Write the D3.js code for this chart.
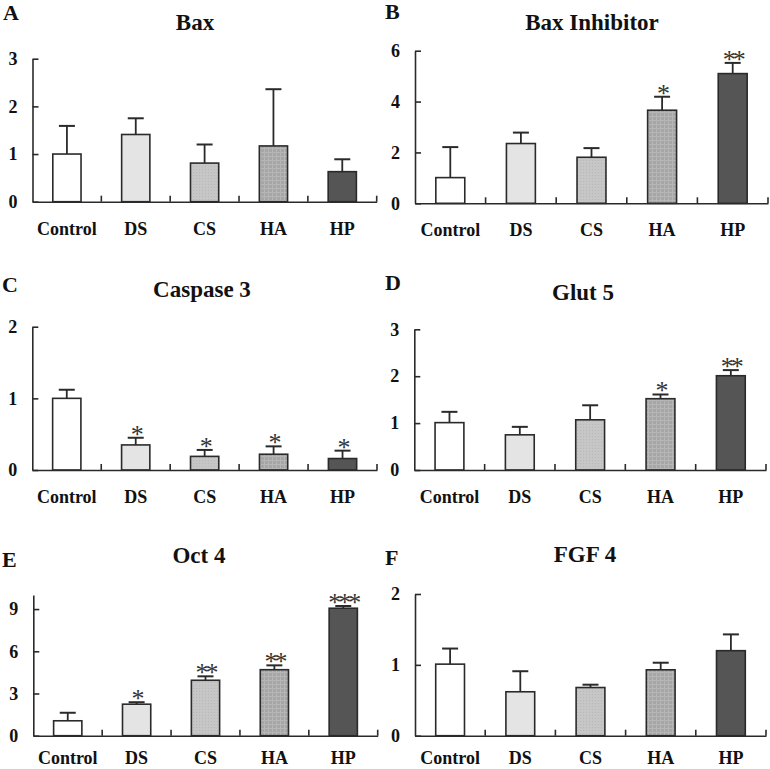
<!DOCTYPE html>
<html><head><meta charset="utf-8">
<script src="https://cdn.jsdelivr.net/npm/d3@7"></script>
<style>body{margin:0;background:#fff}svg{display:block}</style>
</head><body>
<svg id="chart" width="770" height="769"></svg>
<script>
const categories = ["Control", "DS", "CS", "HA", "HP"];

const baxMeans = [1.0, 1.41, 0.81, 1.17, 0.63];
const baxSD = [0.59, 0.34, 0.39, 1.19, 0.26];
const baxStars = ["", "", "", "", ""];

const baxInhMeans = [1.01, 2.35, 1.81, 3.66, 5.10];
const baxInhSD = [1.20, 0.43, 0.36, 0.53, 0.42];
const baxInhStars = ["", "", "", "*", "**"];

const caspMeans = [1.0, 0.35, 0.19, 0.22, 0.16];
const caspSD = [0.12, 0.10, 0.09, 0.11, 0.11];
const caspStars = ["", "*", "*", "*", "*"];

const glutMeans = [1.01, 0.75, 1.07, 1.52, 2.01];
const glutSD = [0.23, 0.17, 0.31, 0.09, 0.12];
const glutStars = ["", "", "", "*", "**"];

const octMeans = [1.06, 2.24, 3.94, 4.69, 9.06];
const octSD = [0.57, 0.14, 0.28, 0.31, 0.16];
const octStars = ["", "*", "**", "**", "***"];

const fgfMeans = [1.01, 0.62, 0.68, 0.93, 1.20];
const fgfSD = [0.22, 0.29, 0.04, 0.10, 0.23];
const fgfStars = ["", "", "", "", ""];

const baxTicks = [0, 1, 2, 3];
const baxInhTicks = [0, 2, 4, 6];
const caspTicks = [0, 1, 2];
const glutTicks = [0, 1, 2, 3];
const octTicks = [0, 3, 6, 9];
const fgfTicks = [0, 1, 2];

const panelLetters = ["A", "B", "C", "D", "E", "F"];
const panelTitles = ["Bax", "Bax Inhibitor", "Caspase 3", "Glut 5", "Oct 4", "FGF 4"];

const panels = [
  {means: baxMeans, sd: baxSD, stars: baxStars, ticks: baxTicks, max: 3,
   x0: 32.5, x1: 376.7, y0: 201.7, yTop: 58.7, tx: 195, ty: 30, lx: 3, ly: 20, lab: 33},
  {means: baxInhMeans, sd: baxInhSD, stars: baxInhStars, ticks: baxInhTicks, max: 6,
   x0: 415, x1: 768, y0: 203.3, yTop: 50.7, tx: 592, ty: 30, lx: 385, ly: 19, lab: 33},
  {means: caspMeans, sd: caspSD, stars: caspStars, ticks: caspTicks, max: 2,
   x0: 32.3, x1: 377, y0: 470, yTop: 326.7, tx: 202, ty: 297, lx: 2, ly: 292, lab: 33},
  {means: glutMeans, sd: glutSD, stars: glutStars, ticks: glutTicks, max: 3,
   x0: 414.3, x1: 766, y0: 470, yTop: 329.3, tx: 583, ty: 300, lx: 385, ly: 290, lab: 33},
  {means: octMeans, sd: octSD, stars: octStars, ticks: octTicks, max: 10,
   x0: 33.3, x1: 377.7, y0: 735.7, yTop: 595, tx: 199, ty: 563, lx: 2, ly: 567, lab: 28},
  {means: fgfMeans, sd: fgfSD, stars: fgfStars, ticks: fgfTicks, max: 2,
   x0: 415, x1: 766, y0: 735.7, yTop: 594, tx: 585, ty: 562, lx: 385, ly: 565, lab: 28}
];

const svg = d3.select("#chart");
const defs = svg.append("defs");
const pCS = defs.append("pattern").attr("id", "patCS").attr("patternUnits", "userSpaceOnUse")
  .attr("width", 3).attr("height", 3);
pCS.append("rect").attr("width", 3).attr("height", 3).attr("fill", "#c6c6c6");
pCS.append("rect").attr("x", 1).attr("y", 1).attr("width", 1).attr("height", 1).attr("fill", "#b8b8b8");
const pHA = defs.append("pattern").attr("id", "patHA").attr("patternUnits", "userSpaceOnUse")
  .attr("width", 4).attr("height", 4);
pHA.append("rect").attr("width", 4).attr("height", 4).attr("fill", "#a6a6a6");
pHA.append("rect").attr("x", 0).attr("y", 0).attr("width", 4).attr("height", 1).attr("fill", "#b6b6b6");
pHA.append("rect").attr("x", 0).attr("y", 0).attr("width", 1).attr("height", 4).attr("fill", "#b6b6b6");

const fills = ["#ffffff", "#e4e4e4", "url(#patCS)", "url(#patHA)", "#555555"];
const ink = "#2a2a2a";
const font = "'Liberation Serif', 'Times New Roman', serif";

panels.forEach((p, i) => {
  const g = svg.append("g");
  const x = d3.scaleBand().domain(categories).range([p.x0, p.x1]).padding(0);
  const y = d3.scaleLinear().domain([0, p.max]).range([p.y0, p.yTop]);
  const bw = x.bandwidth() * 0.41;

  g.append("text").attr("x", p.lx).attr("y", p.ly).text(panelLetters[i])
    .attr("font-family", font).attr("font-weight", "bold").attr("font-size", 22).attr("fill", "#111");
  g.append("text").attr("x", p.tx).attr("y", p.ty).attr("text-anchor", "middle").text(panelTitles[i])
    .attr("font-family", font).attr("font-weight", "bold").attr("font-size", 23).attr("fill", "#111");

  const yAxis = d3.axisLeft(y).tickValues(p.ticks).tickFormat(d3.format("d"))
    .tickSizeInner(-6).tickSizeOuter(0).tickPadding(20);
  const ya = g.append("g").attr("transform", `translate(${p.x0},0)`).call(yAxis);
  ya.select(".domain").attr("stroke", ink).attr("stroke-width", 1.6);
  ya.selectAll(".tick line").attr("stroke", ink).attr("stroke-width", 1.6);
  ya.selectAll(".tick text").attr("font-family", font).attr("font-weight", "bold")
    .attr("font-size", 18).attr("fill", "#111").attr("x", -15);

  g.selectAll("rect.bar").data(categories).enter().append("rect")
    .attr("x", (c) => x(c) + (x.bandwidth() - bw) / 2)
    .attr("y", (c, j) => y(p.means[j]))
    .attr("width", bw)
    .attr("height", (c, j) => y(0) - y(p.means[j]))
    .attr("fill", (c, j) => fills[j])
    .attr("stroke", ink).attr("stroke-width", 1.6);

  const cx = (c) => x(c) + x.bandwidth() / 2;
  g.selectAll("line.err").data(categories).enter().append("line")
    .attr("x1", cx).attr("x2", cx)
    .attr("y1", (c, j) => y(p.means[j]))
    .attr("y2", (c, j) => y(p.means[j] + p.sd[j]))
    .attr("stroke", ink).attr("stroke-width", 1.8);
  g.selectAll("line.cap").data(categories).enter().append("line")
    .attr("x1", (c) => cx(c) - 8).attr("x2", (c) => cx(c) + 8)
    .attr("y1", (c, j) => y(p.means[j] + p.sd[j]))
    .attr("y2", (c, j) => y(p.means[j] + p.sd[j]))
    .attr("stroke", ink).attr("stroke-width", 2);

  g.selectAll("text.star").data(categories).enter().append("text")
    .attr("x", cx)
    .attr("y", (c, j) => y(p.means[j] + p.sd[j]) + 5)
    .attr("text-anchor", "middle")
    .attr("font-family", font).attr("font-size", 26).attr("fill", "#333")
    .attr("letter-spacing", -3)
    .text((c, j) => p.stars[j]);

  const xAxis = d3.axisBottom(x).tickSize(0).tickPadding(0);
  const xa = g.append("g").attr("transform", `translate(0,${p.y0})`).call(xAxis);
  xa.select(".domain").attr("stroke", ink).attr("stroke-width", 1.6);
  xa.selectAll(".tick line").remove();
  xa.selectAll(".tick text").attr("font-family", font).attr("font-weight", "bold")
    .attr("font-size", 18).attr("fill", "#111").attr("dy", null).attr("y", p.lab);
  const bounds = categories.slice(1).map((c) => x(c)).concat([p.x1]);
  g.selectAll("line.xt").data(bounds).enter().append("line")
    .attr("x1", (d) => d).attr("x2", (d) => d)
    .attr("y1", p.y0).attr("y2", p.y0 - 6)
    .attr("stroke", ink).attr("stroke-width", 1.6);
});
</script>
</body></html>
